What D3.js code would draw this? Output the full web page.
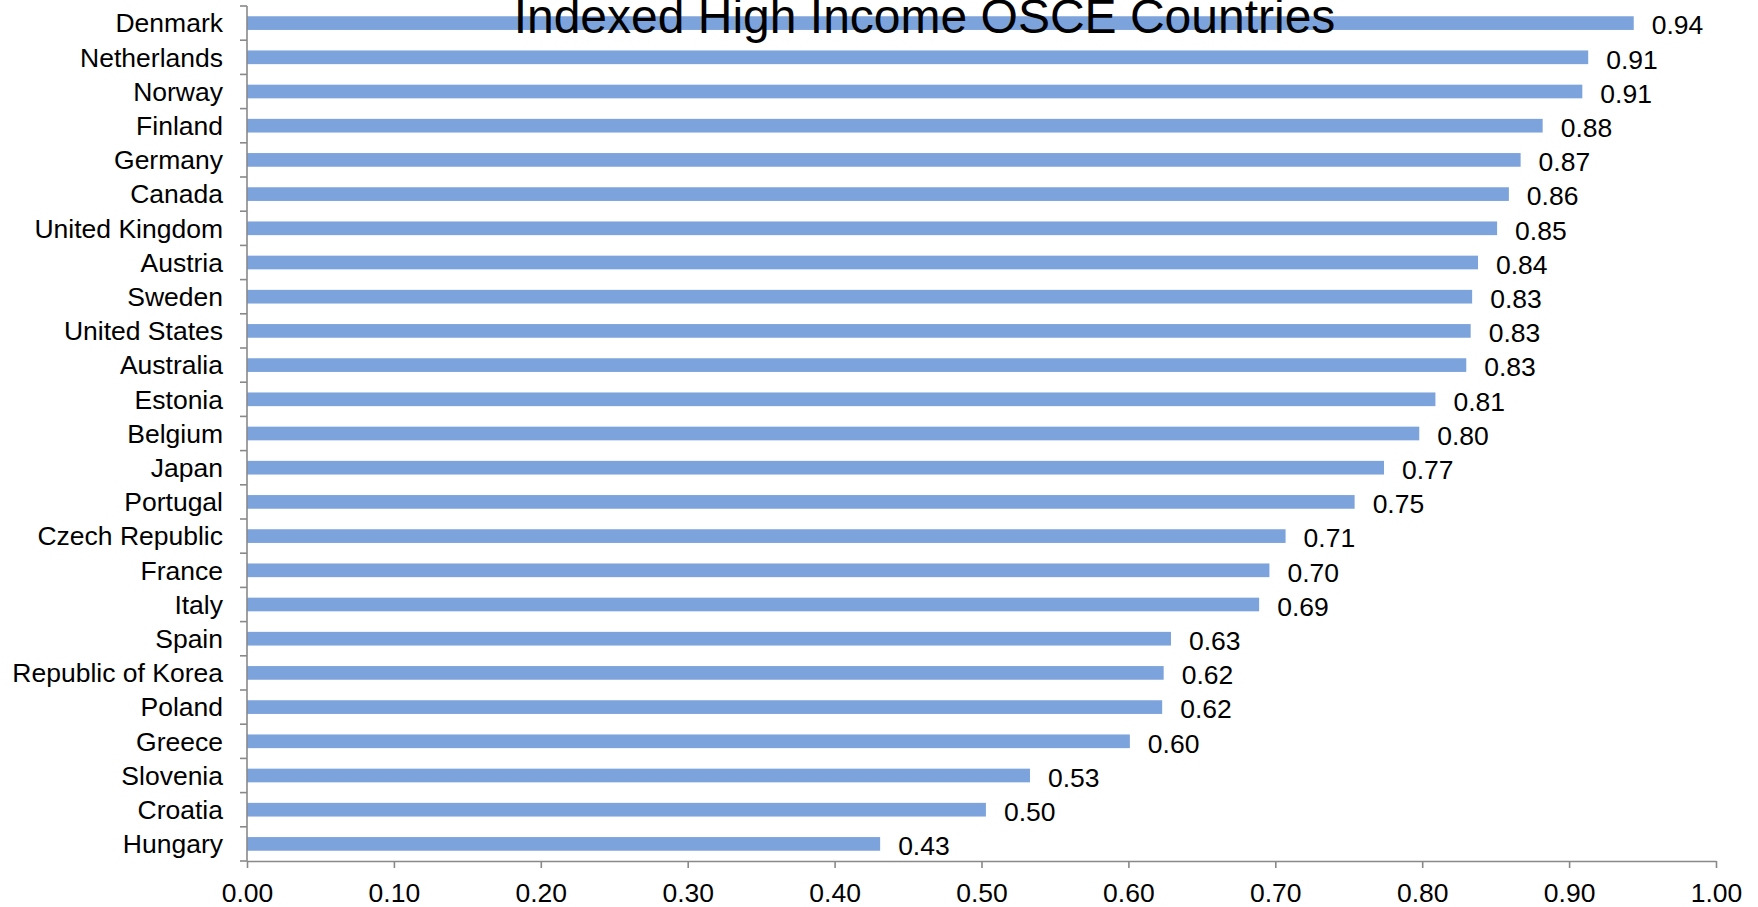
<!DOCTYPE html>
<html>
<head>
<meta charset="utf-8">
<script src="https://cdn.jsdelivr.net/npm/d3@7"></script>
<style>
  html, body { margin: 0; padding: 0; background: #fff; }
  svg { display: block; font-family: "Liberation Sans", Arial, sans-serif; }
</style>
</head>
<body>
<svg id="chart" width="1758" height="907"></svg>
<script>
// Index values for high income countries, top to bottom
const countries = [
  "Denmark", "Netherlands", "Norway", "Finland", "Germany", "Canada",
  "United Kingdom", "Austria", "Sweden", "United States", "Australia",
  "Estonia", "Belgium", "Japan", "Portugal", "Czech Republic", "France",
  "Italy", "Spain", "Republic of Korea", "Poland", "Greece", "Slovenia",
  "Croatia", "Hungary"
];
const indexValues = [
  0.944, 0.913, 0.909, 0.882, 0.867, 0.859,
  0.851, 0.838, 0.834, 0.833, 0.830,
  0.809, 0.798, 0.774, 0.754, 0.707, 0.696,
  0.689, 0.629, 0.624, 0.623, 0.601, 0.533,
  0.503, 0.431
];
const xTicks = [0, 0.1, 0.2, 0.3, 0.4, 0.5, 0.6, 0.7, 0.8, 0.9, 1.0];
const chartTitle = "Indexed High Income OSCE Countries";

const data = countries.map((c, i) => ({ country: c, value: indexValues[i] }));

const svg = d3.select("#chart");
const margin = { left: 247, right: 42, top: 6, bottom: 46 };
const W = 1758, H = 907;
const axisColor = "#898989";
const barColor = "#7CA3DB";
const labelSize = 26.5;

const x = d3.scaleLinear().domain([0, 1]).range([margin.left, W - margin.right]);
const y = d3.scaleBand()
  .domain(countries)
  .range([margin.top, H - margin.bottom])
  .paddingInner(0.6)
  .paddingOuter(0.3);

// Bars
svg.append("g")
  .selectAll("rect")
  .data(data)
  .join("rect")
  .attr("x", x(0))
  .attr("y", d => y(d.country))
  .attr("width", d => x(d.value) - x(0))
  .attr("height", y.bandwidth())
  .attr("fill", barColor);

// Value labels
svg.append("g")
  .selectAll("text")
  .data(data)
  .join("text")
  .attr("x", d => x(d.value) + 18)
  .attr("y", d => y(d.country) + y.bandwidth() / 2 + 2)
  .attr("dy", "0.35em")
  .attr("font-size", labelSize)
  .attr("fill", "#000")
  .text(d => d3.format(".2f")(d.value));

// Category axis: line, boundary ticks and labels
const yAxis = svg.append("g");
const step = y.step();
const boundaries = countries.map(c => y(c) - step * y.paddingOuter());
boundaries.push(y(countries[countries.length - 1]) + y.bandwidth() + step * y.paddingOuter());
yAxis.append("line")
  .attr("x1", x(0)).attr("x2", x(0))
  .attr("y1", boundaries[0]).attr("y2", boundaries[boundaries.length - 1])
  .attr("stroke", axisColor).attr("stroke-width", 1.6);
yAxis.selectAll("line.tick")
  .data(boundaries)
  .join("line")
  .attr("class", "tick")
  .attr("x1", x(0) - 7).attr("x2", x(0))
  .attr("y1", d => d).attr("y2", d => d)
  .attr("stroke", axisColor).attr("stroke-width", 1.6);
yAxis.selectAll("text")
  .data(countries)
  .join("text")
  .attr("x", x(0) - 24)
  .attr("y", d => y(d) + y.bandwidth() / 2)
  .attr("dy", "0.35em")
  .attr("text-anchor", "end")
  .attr("font-size", labelSize)
  .attr("fill", "#000")
  .text(d => d);

// Value axis
const xAxis = svg.append("g")
  .attr("transform", `translate(0,${boundaries[boundaries.length - 1]})`)
  .call(d3.axisBottom(x)
    .tickValues(xTicks)
    .tickFormat(d3.format(".2f"))
    .tickSize(7)
    .tickSizeOuter(0)
    .tickPadding(15));
xAxis.select(".domain").attr("stroke", axisColor).attr("stroke-width", 1.6);
xAxis.selectAll(".tick line").attr("stroke", axisColor).attr("stroke-width", 1.6);
xAxis.selectAll(".tick text")
  .attr("font-size", labelSize)
  .attr("font-family", "\"Liberation Sans\", Arial, sans-serif")
  .attr("fill", "#000");

// Title drawn over the bars
svg.append("text")
  .attr("x", 924.5)
  .attr("y", 32.5)
  .attr("text-anchor", "middle")
  .attr("font-size", 48)
  .attr("fill", "#000")
  .text(chartTitle);
</script>
</body>
</html>
